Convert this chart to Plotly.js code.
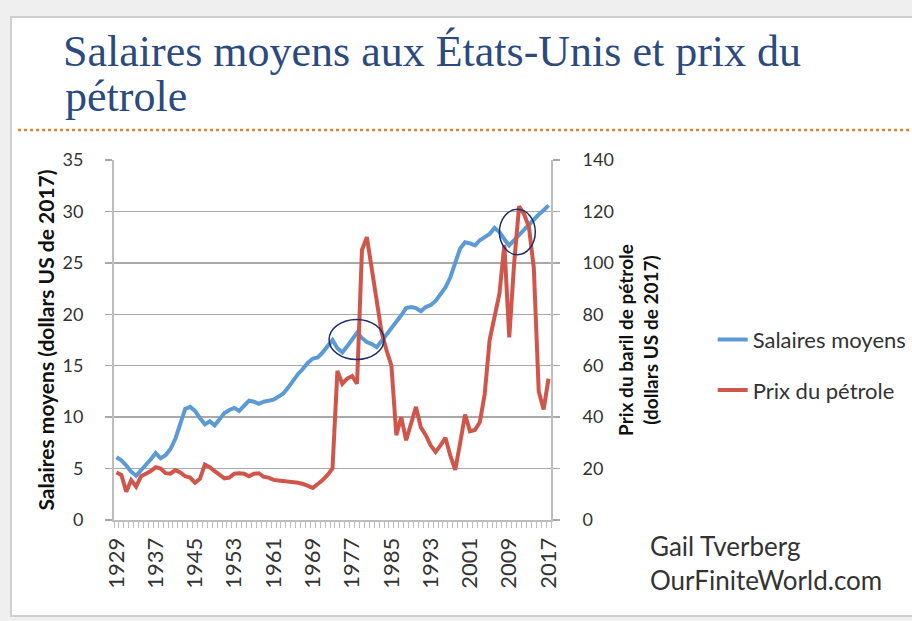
<!DOCTYPE html>
<html>
<head>
<meta charset="utf-8">
<script src="https://cdn.plot.ly/plotly-3.0.1.min.js"></script>
<style>
  html, body { margin: 0; padding: 0; background: #efefef; }
  #chart { width: 912px; height: 621px; }
</style>
</head>
<body>
<div id="chart"></div>
<script>
// ---- Data ----
const years = [1929,1930,1931,1932,1933,1934,1935,1936,1937,1938,1939,1940,1941,1942,1943,1944,1945,1946,1947,1948,
  1949,1950,1951,1952,1953,1954,1955,1956,1957,1958,1959,1960,1961,1962,1963,1964,1965,1966,1967,1968,
  1969,1970,1971,1972,1973,1974,1975,1976,1977,1978,1979,1980,1981,1982,1983,1984,1985,1986,1987,1988,
  1989,1990,1991,1992,1993,1994,1995,1996,1997,1998,1999,2000,2001,2002,2003,2004,2005,2006,2007,2008,
  2009,2010,2011,2012,2013,2014,2015,2016,2017];

// Salaires moyens (dollars US de 2017) - left axis
const wages = [6.1,5.8,5.3,4.7,4.3,4.8,5.3,5.9,6.5,6.0,6.3,6.9,7.9,9.4,10.8,11.0,10.6,9.9,9.3,9.6,
  9.2,9.8,10.4,10.7,10.9,10.6,11.1,11.6,11.5,11.3,11.5,11.6,11.7,12.0,12.3,12.9,13.6,14.2,14.7,15.3,
  15.7,15.8,16.3,16.9,17.5,16.7,16.3,16.9,17.5,18.2,17.7,17.3,17.1,16.8,17.4,18.0,18.6,19.3,19.9,20.6,
  20.7,20.6,20.3,20.7,20.9,21.3,21.9,22.6,23.6,25.0,26.4,27.0,26.9,26.7,27.2,27.5,27.8,28.4,28.0,27.3,
  26.7,27.2,27.7,28.3,28.8,29.2,29.7,30.1,30.6];

// Prix du baril de pétrole (dollars US de 2017) - right axis
const oil = [18.5,17.5,11.0,15.5,13.0,17.0,18.0,19.0,20.5,20.0,18.2,18.0,19.4,18.5,17.0,16.5,14.5,16.0,21.5,20.5,
  19.0,17.5,16.2,16.5,18.0,18.2,18.0,17.0,18.0,18.2,16.8,16.5,15.6,15.4,15.2,15.0,14.9,14.5,14.0,13.4,
  12.5,14.0,15.5,17.5,20.0,58.0,53.0,55.0,56.0,53.0,105.0,110.0,97.0,84.0,73.0,66.0,60.0,33.0,40.0,31.0,
  38.0,44.0,36.0,33.0,29.0,26.5,29.0,32.0,25.0,19.5,30.0,41.0,34.5,35.0,38.0,49.0,70.0,80.0,88.0,107.0,
  71.0,100.0,122.0,119.0,114.0,98.0,50.0,43.0,55.0];

const xTickYears = [1929,1937,1945,1953,1961,1969,1977,1985,1993,2001,2009,2017];
const seriesNames = ['Salaires moyens', 'Prix du pétrole'];
const titleLine1 = 'Salaires moyens aux États-Unis et prix du';
const titleLine2 = 'pétrole';
const leftTitle = 'Salaires moyens (dollars US de 2017)';
const rightTitle = 'Prix du baril de pétrole<br>(dollars US de 2017)';
const credits = 'Gail Tverberg<br>OurFiniteWorld.com';

// ---- Styles ----
const BLUE = '#5b9bd5';
const RED = '#d0564b';
const GRID = '#a9a9a9';
const AXIS = '#bdbdbd';
const FONT = 'Lato, "Open Sans", sans-serif';
const TITLE_FONT = { family: '"Liberation Serif", "DejaVu Serif", serif', size: 44, color: '#2b4a7e' };

const traces = [
  { x: years, y: wages, name: seriesNames[0], type: 'scatter', mode: 'lines',
    line: { color: BLUE, width: 4 }, yaxis: 'y', legendgroup: 'a' },
  { x: years, y: oil, name: seriesNames[1], type: 'scatter', mode: 'lines',
    line: { color: RED, width: 4 }, yaxis: 'y2', legendgroup: 'b' }
];

const layout = {
  width: 912, height: 621,
  margin: { l: 114, r: 361, t: 160, b: 101, pad: 0, autoexpand: false },
  paper_bgcolor: '#efefef',
  plot_bgcolor: '#ffffff',
  font: { family: FONT, color: '#333333' },
  title: {
    text: titleLine1,
    font: TITLE_FONT,
    x: 63 / 912, xanchor: 'left', xref: 'container',
    y: 1 - 66 / 621, yanchor: 'bottom', yref: 'container'
  },
  xaxis: {
    range: [1928.5, 2017.5],
    tickmode: 'array', tickvals: xTickYears, ticktext: xTickYears.map(String),
    tickangle: -90, ticks: '', ticklen: 0,
    ticklabelstandoff: 7,
    tickfont: { size: 22, color: '#333333' },
    showline: true, linecolor: AXIS, linewidth: 2,
    showgrid: false, zeroline: false,
    minor: { tickmode: 'linear', tick0: 1928.5, dtick: 1, ticks: 'outside', ticklen: 6,
             tickcolor: AXIS, tickwidth: 1, showgrid: false }
  },
  yaxis: {
    range: [0, 35], dtick: 5, tick0: 0,
    showgrid: true, gridcolor: GRID, gridwidth: 1.5,
    showline: true, linecolor: AXIS, linewidth: 2,
    ticks: 'outside', ticklen: 7, tickcolor: GRID, tickwidth: 1.5,
    ticklabelstandoff: 18,
    tickfont: { size: 18, color: '#333333' },
    zeroline: false,
    title: { text: leftTitle, font: { size: 21, color: '#111111', weight: 'bold' }, standoff: 2 }
  },
  yaxis2: {
    range: [0, 140], dtick: 20, tick0: 0,
    overlaying: 'y', side: 'right', anchor: 'x',
    showgrid: false, zeroline: false,
    showline: true, linecolor: AXIS, linewidth: 2,
    ticks: 'outside', ticklen: 7, tickcolor: GRID, tickwidth: 1.5,
    ticklabelstandoff: 19,
    tickfont: { size: 18, color: '#333333' },
    title: { text: rightTitle, font: { size: 19, color: '#111111', weight: 'bold' }, standoff: 6 }
  },
  legend: {
    x: 1.37, xanchor: 'left', y: 0.43, yanchor: 'middle',
    font: { size: 22, color: '#333333' },
    bgcolor: 'rgba(0,0,0,0)',
    traceorder: 'grouped', tracegroupgap: 19
  },
  shapes: [
    // white panel
    { type: 'rect', xref: 'paper', yref: 'paper', layer: 'below',
      x0: -103 / 437, x1: 801 / 437, y0: -96 / 360, y1: 503 / 360,
      fillcolor: '#ffffff', line: { color: '#cfcfcf', width: 2 } },
    // dotted orange separator under the title
    { type: 'line', xref: 'paper', yref: 'paper',
      x0: -96 / 437, x1: 798 / 437, y0: 390 / 360, y1: 390 / 360,
      line: { color: '#e0822e', width: 2.5, dash: 'dot' } },
    // highlight ellipses
    { type: 'circle', xref: 'x', yref: 'y', x0: 1972.3, x1: 1983.5, y0: 15.6, y1: 19.5,
      line: { color: '#1f2f6e', width: 1.5 } },
    { type: 'circle', xref: 'x', yref: 'y', x0: 2007.0, x1: 2014.3, y0: 25.8, y1: 30.2,
      line: { color: '#1f2f6e', width: 1.5 } }
  ],
  annotations: [
    // second line of the title
    { text: titleLine2, xref: 'paper', yref: 'paper', x: -51 / 437, y: 397 / 360,
      xanchor: 'left', yanchor: 'bottom', showarrow: false, font: TITLE_FONT },
    { text: credits, xref: 'paper', yref: 'paper', x: 534 / 437, y: -43 / 360,
      xanchor: 'left', yanchor: 'middle', align: 'left', showarrow: false,
      font: { size: 26, color: '#333333' } }
  ],
  showlegend: true
};

Plotly.newPlot('chart', traces, layout, { displayModeBar: false, staticPlot: true });
</script>
</body>
</html>
